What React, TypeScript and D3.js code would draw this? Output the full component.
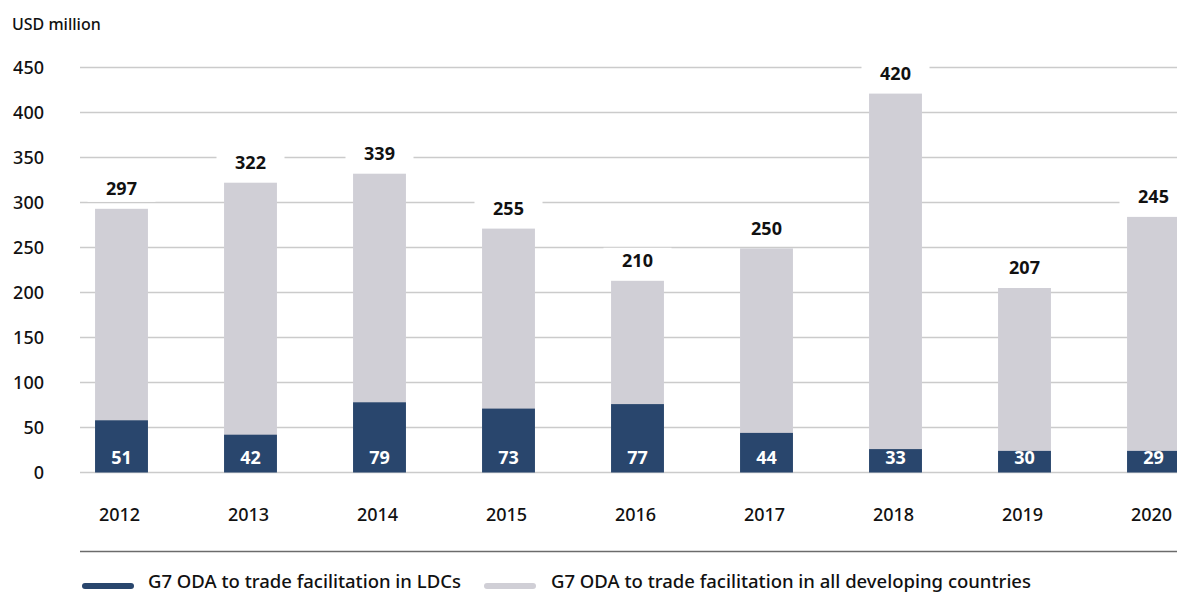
import React, { useEffect } from "react";
import * as d3 from "d3";

const years = ["2012", "2013", "2014", "2015", "2016", "2017", "2018", "2019", "2020"];
// bar heights as drawn in the picture
const totalBars = [293, 322, 332, 271, 213, 249, 421, 205, 284];
const ldcBars = [58, 42, 78, 71, 76, 44, 26, 24, 24];
// value labels as printed
const totalLabels = ["297", "322", "339", "255", "210", "250", "420", "207", "245"];
const ldcLabels = ["51", "42", "79", "73", "77", "44", "33", "30", "29"];
const yTicks = [0, 50, 100, 150, 200, 250, 300, 350, 400, 450];
const legendItems = [
  "G7 ODA to trade facilitation in LDCs",
  "G7 ODA to trade facilitation in all developing countries",
];

const W = 1177;
const H = 595;
const NAVY = "#29466d";
const GREY = "#d0cfd6";
const FONT = "'Noto Sans', 'Open Sans', sans-serif";

export default function App() {
  useEffect(() => {
    document.body.style.margin = "0";
  }, []);

  const x = d3.scaleBand<string>().domain(years).range([57, 1218]).paddingInner(0.59).paddingOuter(0.295);
  const y = d3.scaleLinear().domain([0, 450]).range([472.5, 67.5]);
  const bw = x.bandwidth();

  return (
    <svg width={W} height={H} style={{ display: "block", fontFamily: FONT }}>
      <rect width={W} height={H} fill="#fff" />
      <text x={12} y={30} fontSize={16} fontWeight={500} fill="#111">USD million</text>
      {yTicks.map((t) => (
        <g key={t}>
          <line x1={80} x2={W} y1={y(t)} y2={y(t)} stroke="#cbcbcb" strokeWidth={1.3} />
          <text x={44} y={y(t)} dy="0.35em" textAnchor="end" fontSize={18} fontWeight={500} fill="#111">{t}</text>
        </g>
      ))}
      {years.map((yr, i) => {
        const x0 = x(yr)!;
        const cx = x0 + bw / 2;
        return (
          <g key={yr}>
            <rect x={x0} width={bw} y={y(totalBars[i])} height={y(0) - y(totalBars[i])} fill={GREY} />
            <rect x={x0} width={bw} y={y(ldcBars[i])} height={y(0) - y(ldcBars[i])} fill={NAVY} />
            <rect x={cx - 34} width={68} y={y(totalBars[i]) - 33} height={26} fill="#fff" />
            <text x={cx} y={y(totalBars[i]) - 20} dy="0.35em" textAnchor="middle" fontSize={18} fontWeight={700} fill="#111">{totalLabels[i]}</text>
            <text x={cx} y={458} dy="0.35em" textAnchor="middle" fontSize={18} fontWeight={700} fill="#fff">{ldcLabels[i]}</text>
            <text x={cx - 2} y={515} dy="0.35em" textAnchor="middle" fontSize={18} fontWeight={500} fill="#111">{yr}</text>
          </g>
        );
      })}
      <line x1={80} x2={W} y1={551.5} y2={551.5} stroke="#6b6b6b" strokeWidth={1.5} />
      <line x1={85} x2={131} y1={586} y2={586} stroke={NAVY} strokeWidth={6} strokeLinecap="round" />
      <text x={148} y={582} dy="0.35em" fontSize={18.5} fontWeight={500} fill="#111">{legendItems[0]}</text>
      <line x1={487} x2={533} y1={586} y2={586} stroke={GREY} strokeWidth={6} strokeLinecap="round" />
      <text x={551} y={582} dy="0.35em" fontSize={18.5} fontWeight={500} fill="#111">{legendItems[1]}</text>
    </svg>
  );
}
